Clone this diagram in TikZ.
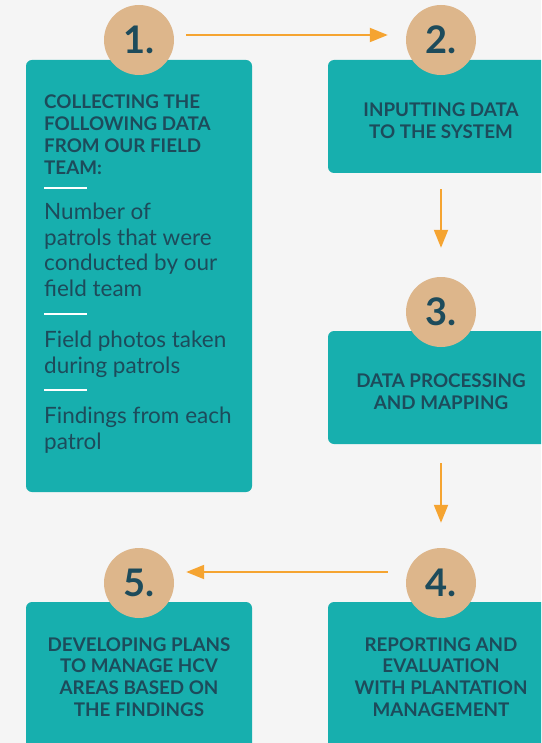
\documentclass[tikz,border=0pt]{standalone}
\usepackage{fontspec}
\setmainfont{Lato}
\usetikzlibrary{arrows.meta}
\definecolor{paper}{HTML}{F5F5F5}
\definecolor{boxteal}{HTML}{17AFAE}
\definecolor{badgetan}{HTML}{DDB68B}
\definecolor{inkblue}{HTML}{1D4B5B}
\definecolor{flowor}{HTML}{F5A431}
\tikzset{
    stepbox/.style={fill=boxteal,rounded corners=6pt,minimum width=226pt,inner sep=0pt},
    badge/.style={circle,fill=badgetan,minimum size=70pt,inner sep=0pt,
        font=\fontsize{38}{38}\selectfont\bfseries,text=inkblue},
    caps/.style={font=\fontsize{18.8}{21.7}\selectfont\bfseries,text=inkblue,align=center,inner sep=0pt},
    body/.style={font=\fontsize{22.5}{25.5}\selectfont,text=inkblue,align=left,inner sep=0pt,anchor=north west},
    rulebar/.style={draw=white,line width=2.5pt},
    flow/.style={draw=flowor,line width=2pt,-{Triangle[length=18pt,width=14pt]}},
}
\begin{document}
\begin{tikzpicture}[x=1pt,y=-1pt]
    \clip (0,0) rectangle (541,743);
    \fill[paper] (0,0) rectangle (541,743);

    % boxes
    \node (b1) [stepbox,minimum height=432pt] at (139,276) {};
    \node (b2) [stepbox,minimum height=113pt] at (441,116.5) {};
    \node (b3) [stepbox,minimum height=113pt] at (441,387.5) {};
    \node (b4) [stepbox,minimum height=170pt] at (441,687) {};
    \node (b5) [stepbox,minimum height=170pt] at (139,687) {};

    % step 1 text
    \node (h1) [caps,align=left,anchor=north west] at (44,95)
        {COLLECTING THE\\FOLLOWING DATA\\FROM OUR FIELD\\TEAM:};
    \draw[rulebar] (44,188) -- (87,188);
    \node (p1) [body] at (44,203) {Number of\\patrols that were\\conducted by our\\field team};
    \draw[rulebar] (44,314) -- (87,314);
    \node (p2) [body] at (44,331) {Field photos taken\\during patrols};
    \draw[rulebar] (44,390) -- (87,390);
    \node (p3) [body] at (44,407) {Findings from each\\patrol};

    % other steps
    \node (t2) [caps] at (441,121) {INPUTTING DATA\\TO THE SYSTEM};
    \node (t3) [caps] at (441,391.5) {DATA PROCESSING\\AND MAPPING};
    \node (t4) [caps] at (441,677) {REPORTING AND\\EVALUATION\\WITH PLANTATION\\MANAGEMENT};
    \node (t5) [caps] at (139,677) {DEVELOPING PLANS\\TO MANAGE HCV\\AREAS BASED ON\\THE FINDINGS};

    % badges
    \node (c1) [badge] at (139,40) {1.};
    \node (c2) [badge] at (441,40) {2.};
    \node (c3) [badge] at (441,312) {3.};
    \node (c4) [badge] at (441,583) {4.};
    \node (c5) [badge] at (139,583) {5.};

    % arrows
    \draw[flow,shorten <=12pt,shorten >=18pt] ([yshift=5pt]c1.east) -- ([yshift=5pt]c2.west);
    \draw[flow,shorten <=16pt,shorten >=29pt] (c2 |- b2.south) -- (c3.north);
    \draw[flow,shorten <=19pt,shorten >=25pt] (c3 |- b3.south) -- (c4.north);
    \draw[flow,shorten <=18pt,shorten >=12pt] ([yshift=11pt]c4.west) -- ([yshift=11pt]c5.east);
\end{tikzpicture}
\end{document}
